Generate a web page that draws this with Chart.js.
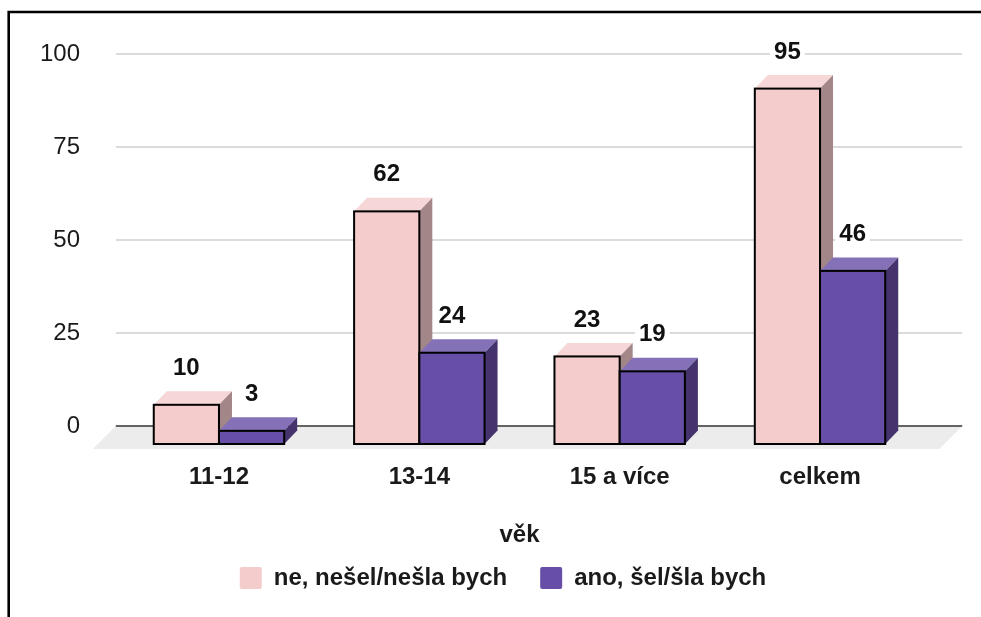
<!DOCTYPE html>
<html lang="cs">
<head>
<meta charset="UTF-8">
<title>věk</title>
<style>
html,body{margin:0;padding:0;background:#fff;}
#wrap{position:relative;width:981px;height:617px;}
</style>
<script src="https://cdn.jsdelivr.net/npm/chart.js"></script>
</head>
<body>
<div id="wrap"><canvas id="chart" width="981" height="617"></canvas></div>
<script>
// data
const categories = ['11-12', '13-14', '15 a více', 'celkem'];
const seriesNames = ['ne, nešel/nešla bych', 'ano, šel/šla bych'];
const valuesNo  = [10, 62, 23, 95];
const valuesYes = [3, 24, 19, 46];
const yTicks = [0, 25, 50, 75, 100];

// colours: front / top / side
const faces = [
  { front: '#f4cccc', top: '#f6d6d6', side: '#a38788' },
  { front: '#674ea7', top: '#8571b8', side: '#44336c' }
];

const DX = 13, DY = 13.5;   // bar depth
const FRONT_Y = 16, FLOOR = 18;

function drawBox(ctx, x0, x1, top, bottom, c) {
  // top face
  ctx.fillStyle = c.top;
  ctx.beginPath();
  ctx.moveTo(x0, top); ctx.lineTo(x0 + DX, top - DY); ctx.lineTo(x1 + DX, top - DY); ctx.lineTo(x1, top);
  ctx.closePath(); ctx.fill();
  // side face
  ctx.fillStyle = c.side;
  ctx.beginPath();
  ctx.moveTo(x1, top); ctx.lineTo(x1 + DX, top - DY); ctx.lineTo(x1 + DX, bottom - DY); ctx.lineTo(x1, bottom);
  ctx.closePath(); ctx.fill();
  // front face
  ctx.fillStyle = c.front;
  ctx.fillRect(x0, top, x1 - x0, bottom - top);
  ctx.strokeStyle = '#000';
  ctx.lineWidth = 2;
  ctx.strokeRect(x0, top, x1 - x0, bottom - top);
}

const bars3d = {
  id: 'bars3d',
  beforeDatasetsDraw(chart) {
    const { ctx, chartArea: a, scales: { y } } = chart;
    const base = y.getPixelForValue(0);
    ctx.save();
    // floor
    ctx.fillStyle = '#ececec';
    ctx.beginPath();
    ctx.moveTo(a.left - 3, base); ctx.lineTo(a.right + 42, base);
    ctx.lineTo(a.right + 19, base + 23); ctx.lineTo(a.left - 26, base + 23);
    ctx.closePath(); ctx.fill();
    // grid lines
    yTicks.forEach(v => {
      const py = y.getPixelForValue(v);
      ctx.strokeStyle = v === 0 ? '#333' : '#cfcfcf';
      ctx.lineWidth = 1.5;
      ctx.beginPath(); ctx.moveTo(a.left - 3, py); ctx.lineTo(a.right + 42, py); ctx.stroke();
    });
    ctx.restore();
  },
  beforeDatasetDraw() { return false; },
  afterDatasetsDraw(chart) {
    const { ctx, scales: { y } } = chart;
    const base = y.getPixelForValue(0);
    ctx.save();
    const labels = [];
    chart.data.datasets.forEach((ds, di) => {
      chart.getDatasetMeta(di).data.forEach((el, i) => {
        const w = el.width;
        const top = el.y + FRONT_Y;
        const bottom = base + FLOOR;
        drawBox(ctx, el.x - w / 2, el.x + w / 2, top, bottom, faces[di]);
        labels.push({ x: el.x, y: top - DY - 23, text: String(ds.data[i]) });
      });
    });
    ctx.font = 'bold 24px "Liberation Sans", Arial, sans-serif';
    ctx.textAlign = 'center';
    ctx.textBaseline = 'middle';
    labels.forEach(l => {
      const tw = ctx.measureText(l.text).width;
      ctx.fillStyle = '#fff';
      ctx.fillRect(l.x - tw / 2 - 4, l.y - 12, tw + 8, 24);
      ctx.fillStyle = '#111';
      ctx.fillText(l.text, l.x, l.y);
    });
    ctx.restore();
  },
  afterDraw(chart) {
    const ctx = chart.ctx;
    ctx.save();
    ctx.strokeStyle = '#000';
    ctx.lineWidth = 2.6;
    ctx.beginPath();
    ctx.moveTo(8.7, 617); ctx.lineTo(8.7, 12); ctx.lineTo(981, 12);
    ctx.stroke();
    ctx.restore();
  }
};

Chart.defaults.font.family = '"Liberation Sans", Arial, sans-serif';
Chart.defaults.font.size = 24;
Chart.defaults.color = '#1a1a1a';

new Chart(document.getElementById('chart'), {
  type: 'bar',
  data: {
    labels: categories,
    datasets: [
      { label: seriesNames[0], data: valuesNo, backgroundColor: faces[0].front, borderWidth: 0 },
      { label: seriesNames[1], data: valuesYes, backgroundColor: faces[1].front, borderWidth: 0 }
    ]
  },
  options: {
    responsive: false,
    animation: false,
    events: [],
    layout: { padding: { top: 54, right: 60.8, left: 85.8, bottom: 17 } },
    datasets: { bar: { categoryPercentage: 0.651, barPercentage: 1 } },
    scales: {
      x: {
        afterFit(scale) { scale.height = 107; },
        grid: { display: false, drawTicks: false },
        border: { display: false },
        ticks: { padding: 37, font: { weight: 'bold' } },
        title: { display: true, text: 'věk', font: { weight: 'bold' }, padding: { top: 0, bottom: -16.4 } }
      },
      y: {
        min: 0, max: 100,
        afterFit(scale) { scale.width = 33; },
        afterBuildTicks(scale) { scale.ticks = yTicks.map(v => ({ value: v })); },
        grid: { display: false, drawTicks: false },
        border: { display: false },
        // mirrored so the labels are not clipped to the narrow axis box
        ticks: { mirror: true, crossAlign: 'far', padding: -78.8 }
      }
    },
    plugins: {
      legend: {
        position: 'bottom',
        labels: { boxWidth: 22, boxHeight: 22, padding: 33, useBorderRadius: true, borderRadius: 2, font: { weight: 'bold' } }
      },
      tooltip: { enabled: false }
    }
  },
  plugins: [bars3d]
});
</script>
</body>
</html>
